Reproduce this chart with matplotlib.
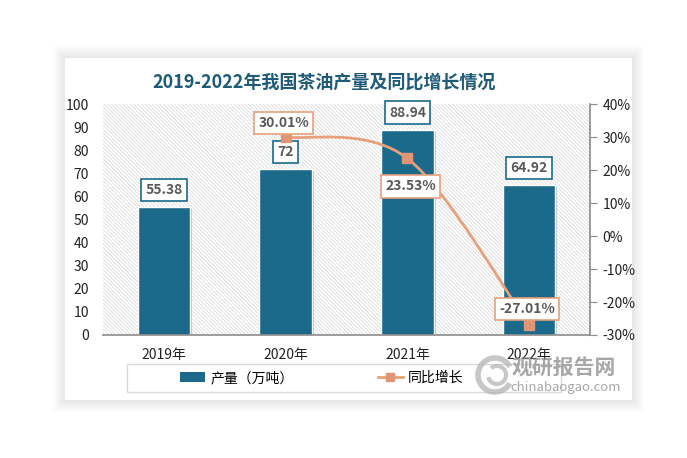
import matplotlib
matplotlib.use("Agg")
import matplotlib.pyplot as plt
from matplotlib.patches import Rectangle, PathPatch, Arc
from matplotlib.path import Path
from matplotlib.lines import Line2D
import matplotlib.patheffects as pe

plt.rcParams['font.family'] = ['Noto Sans CJK SC', 'DejaVu Sans']
plt.rcParams['hatch.linewidth'] = 0.5

years = ['2019年', '2020年', '2021年', '2022年']
output = [55.38, 72, 88.94, 64.92]          # 产量（万吨）
growth_idx = [1, 2, 3]
growth = [30.01, 23.53, -27.01]             # 同比增长 %

bar_color = '#1b6a8c'
line_color = '#e8a07c'
W, H = 687, 458

fig = plt.figure(figsize=(W / 100, H / 100), dpi=100)
fig.patch.set_facecolor('white')

# panel with soft shadow
px0, py0, px1, py1 = 65, 58, 632, 400
for i in range(12, 0, -1):
    fig.patches.append(Rectangle(((px0 - i) / W, 1 - (py1 + i) / H), (px1 - px0 + 2 * i) / W,
                                 (py1 - py0 + 2 * i) / H, transform=fig.transFigure,
                                 facecolor='#000000', alpha=0.008, edgecolor='none', zorder=-2))
fig.patches.append(Rectangle((px0 / W, 1 - py1 / H), (px1 - px0) / W, (py1 - py0) / H,
                             transform=fig.transFigure, facecolor='white', edgecolor='none', zorder=-1))

ax = fig.add_axes([103 / W, 1 - 335 / H, (590 - 103) / W, (335 - 104) / H])
ax.set_facecolor('none')
ax.add_patch(Rectangle((0, 0), 1, 1, transform=ax.transAxes, facecolor='white',
                       edgecolor='#d4d4d4', hatch='\\' * 9, linewidth=0, zorder=0))

x = list(range(len(years)))
bars = ax.bar(x, output, width=0.43, color=bar_color, edgecolor='white', linewidth=1, zorder=2,
              path_effects=[pe.SimplePatchShadow(offset=(1.5, -1.5), alpha=0.25), pe.Normal()])
ax.set_xlim(-0.5, 3.5)
ax.set_ylim(0, 100)
ax.set_yticks(range(0, 101, 10))
ax.set_xticks(x)
ax.set_xticklabels(years)
ax.tick_params(axis='y', length=0, labelsize=10, pad=10, labelcolor='#222222')
ax.tick_params(axis='x', length=0, labelsize=10, pad=9, labelcolor='#222222')
for s in ['left', 'top', 'right']:
    ax.spines[s].set_visible(False)
ax.spines['bottom'].set_color('#8c8c8c')
ax.spines['bottom'].set_linewidth(1.2)

for xi, v in zip(x, output):
    ax.annotate(f'{v:g}', (xi, v), xytext=(0, 17), textcoords='offset pixels', ha='center', va='center',
                fontsize=10, fontweight='bold', color='#595959', zorder=5,
                bbox=dict(boxstyle='square,pad=0.3', facecolor='white', edgecolor=bar_color, linewidth=1.2))

ax2 = ax.twinx()
ax2.set_ylim(-30, 40)
ax2.set_yticks(range(-30, 41, 10))
ax2.set_yticklabels([f'{t}%' for t in range(-30, 41, 10)])
ax2.tick_params(axis='y', length=5, color='#8c8c8c', labelsize=10, pad=4, labelcolor='#222222')
for s in ['left', 'top', 'bottom']:
    ax2.spines[s].set_visible(False)
ax2.spines['right'].set_color('#8c8c8c')
ax2.spines['right'].set_linewidth(1.2)

# smoothed line (Catmull-Rom style bezier through the data points)
pts = list(zip(growth_idx, growth))
verts = [pts[0]]
codes = [Path.MOVETO]
for i in range(len(pts) - 1):
    p0 = pts[max(i - 1, 0)]
    p1 = pts[i]
    p2 = pts[i + 1]
    p3 = pts[min(i + 2, len(pts) - 1)]
    c1 = (p1[0] + (p2[0] - p0[0]) / 6, p1[1] + (p2[1] - p0[1]) / 6)
    c2 = (p2[0] - (p3[0] - p1[0]) / 6, p2[1] - (p3[1] - p1[1]) / 6)
    verts += [c1, c2, p2]
    codes += [Path.CURVE4] * 3
ax2.add_patch(PathPatch(Path(verts, codes), facecolor='none', edgecolor=line_color, linewidth=2, zorder=3))
ax2.plot(growth_idx, growth, linestyle='none', marker='s', markersize=7, color='#e09574', zorder=4)

offsets = [(-2, 14), (3, -28), (-2, 16)]
for xi, v, off in zip(growth_idx, growth, offsets):
    ax2.annotate(f'{v:.2f}%', (xi, v), xytext=off, textcoords='offset pixels', ha='center', va='center',
                 fontsize=10, fontweight='bold', color='#595959', zorder=6,
                 bbox=dict(boxstyle='square,pad=0.3', facecolor='white', edgecolor=line_color, linewidth=1.2))

fig.text(324 / W, 1 - 82 / H, '2019-2022年我国茶油产量及同比增长情况', ha='center', va='center',
         fontsize=13, fontweight='bold', color='#1e5b79')

# legend
fig.patches.append(Rectangle((127 / W, 1 - 392 / H), (561 - 127) / W, 28 / H, transform=fig.transFigure,
                             facecolor='none', edgecolor='#d9d9d9', linewidth=1, zorder=1))
handles = [Rectangle((0, 0), 1, 1, facecolor=bar_color),
           Line2D([0], [0], color=line_color, linewidth=2, marker='s', markersize=6,
                  markerfacecolor='#e09574', markeredgecolor='#e09574')]
fig.legend(handles, ['产量（万吨）', '同比增长'], loc='center', bbox_to_anchor=(322 / W, 1 - 378 / H),
           ncol=2, frameon=False, fontsize=10, columnspacing=6.0, handlelength=1.8, handletextpad=0.4)

# watermark
fig.patches.append(Arc((495 / W, 1 - 375 / H), 34 / W, 34 / H, theta1=40, theta2=320,
                       transform=fig.transFigure, color='#b0b0b0', linewidth=4, alpha=0.7, zorder=7))
fig.patches.append(Arc((497 / W, 1 - 375 / H), 18 / W, 18 / H, theta1=200, theta2=480,
                       transform=fig.transFigure, color='#b0b0b0', linewidth=3, alpha=0.7, zorder=7))
fig.text(564 / W, 1 - 367 / H, '观研报告网', ha='center', va='center', fontsize=15, fontweight='bold',
         color='#8a8a8a', alpha=0.75, zorder=8)
fig.text(566 / W, 1 - 388 / H, 'chinabaogao.com', ha='center', va='center', fontsize=9.5,
         color='#8a8a8a', alpha=0.75, zorder=8)

fig.savefig('out.png', dpi=100)
